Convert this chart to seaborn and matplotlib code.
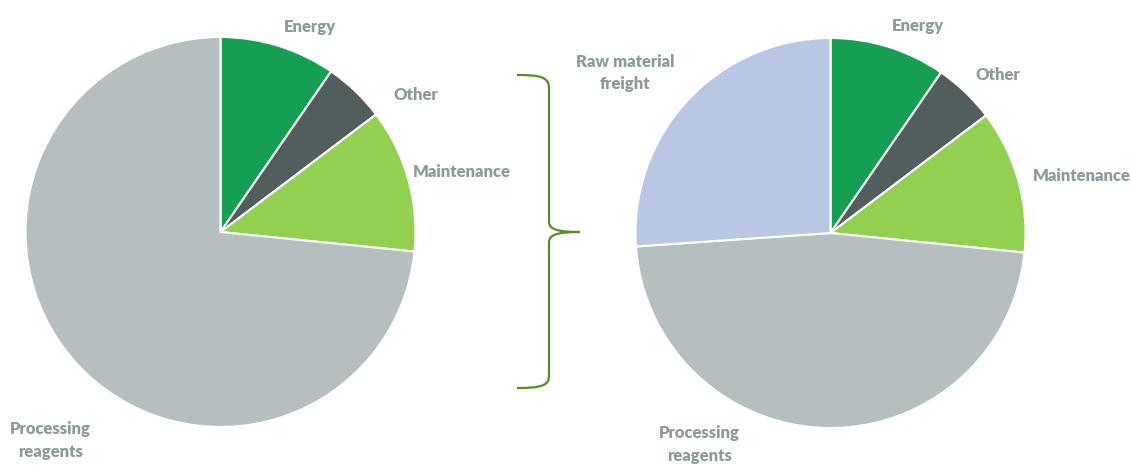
import matplotlib
matplotlib.use("Agg")
import matplotlib.pyplot as plt
from matplotlib.path import Path
from matplotlib.patches import PathPatch
import seaborn as sns

# ---- data ----
left_labels = ["Energy", "Other", "Maintenance", "Processing\nreagents"]
left_values = [9.6, 5.1, 11.9, 73.4]
right_labels = ["Energy", "Other", "Maintenance", "Processing\nreagents", "Raw material\nfreight"]
right_values = [9.6, 5.1, 11.9, 47.3, 26.1]

colors = {
    "Energy": "#159F52",
    "Other": "#525D5E",
    "Maintenance": "#92D050",
    "Processing\nreagents": "#B6BFBF",
    "Raw material\nfreight": "#B7C7E4",
}

sns.set_theme(style="white")
plt.rcParams["font.family"] = ["Lato", "DejaVu Sans"]

W, H = 1131, 466
fig = plt.figure(figsize=(W / 100, H / 100), dpi=100)
fig.patch.set_facecolor("white")

def px_axes(cx, cy, r):
    return fig.add_axes([(cx - r) / W, (H - cy - r) / H, 2 * r / W, 2 * r / H])

label_color = "#8E9B9B"
label_kw = dict(color=label_color, fontsize=12, fontweight="heavy", ha="center", va="center",
                linespacing=1.5)

def draw_pie(ax, labels, values, label_pos):
    pal = sns.color_palette([colors[l] for l in labels])
    ax.pie(values, colors=pal, startangle=90, counterclock=False, radius=1.0,
           wedgeprops=dict(edgecolor="white", linewidth=1.5))
    ax.set_xlim(-1, 1)
    ax.set_ylim(-1, 1)
    ax.set_aspect("equal")
    ax.axis("off")
    for lab, (x, y) in zip(labels, label_pos):
        ax.text(x, y, lab, clip_on=False, **label_kw)

R = 195
ax1 = px_axes(220.5, 232, R)
# label positions in pie-radius units
pos_left = [(0.46, 1.05), (1.0, 0.70), (1.24, 0.31), (-0.874, -1.07)]
draw_pie(ax1, left_labels, left_values, pos_left)

ax2 = px_axes(830.5, 233, R)
pos_right = [(0.45, 1.06), (0.86, 0.81), (1.29, 0.29), (-0.674, -1.085), (-1.055, 0.82)]
draw_pie(ax2, right_labels, right_values, pos_right)

# curly brace linking the two pies
bax = fig.add_axes([0, 0, 1, 1])
bax.set_xlim(0, W)
bax.set_ylim(H, 0)
bax.axis("off")
verts = [
    (517, 75), (540, 75), (549, 77), (549, 88),
    (549, 222),
    (549, 230), (560, 232), (580, 232),
    (560, 232), (549, 234), (549, 242),
    (549, 376),
    (549, 386), (540, 388), (517, 388),
]
codes = [Path.MOVETO, Path.CURVE4, Path.CURVE4, Path.CURVE4,
         Path.LINETO,
         Path.CURVE4, Path.CURVE4, Path.CURVE4,
         Path.CURVE4, Path.CURVE4, Path.CURVE4,
         Path.LINETO,
         Path.CURVE4, Path.CURVE4, Path.CURVE4]
bax.add_patch(PathPatch(Path(verts, codes), facecolor="none", edgecolor="#5A8A2A", linewidth=1.6))

fig.savefig("out.png", dpi=100, facecolor="white")
